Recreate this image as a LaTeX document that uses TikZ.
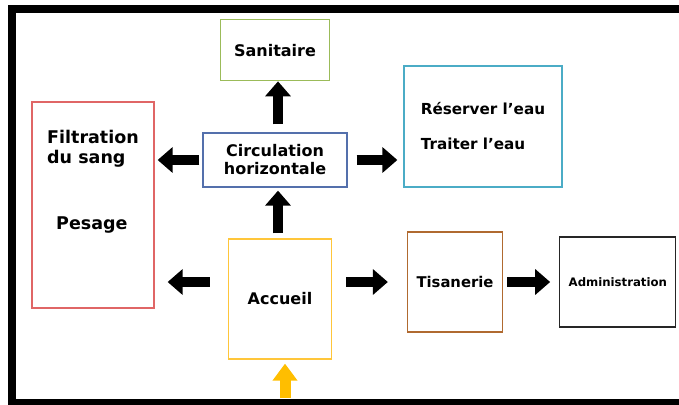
\documentclass[tikz,border=0pt]{standalone}
\usepackage{fontspec}
\setsansfont{DejaVu Sans}
\usetikzlibrary{arrows.meta, positioning}
\definecolor{sanitgreen}{HTML}{9BBB59}
\definecolor{circblue}{HTML}{5470AC}
\definecolor{eaucyan}{HTML}{4BACC6}
\definecolor{filtred}{HTML}{E06666}
\definecolor{accgold}{HTML}{FFC63A}
\definecolor{tisbrown}{HTML}{B06A30}
\definecolor{entryyellow}{HTML}{FFBE00}

\begin{document}
\begin{tikzpicture}[
        x=1pt, y=-1pt,
        fs/.style 2 args={font=\sffamily\bfseries\fontsize{#1}{#2}\selectfont},
        base/.style={draw, line width=1.3pt, align=center, inner sep=0pt, text=black},
        room/.style={base, rectangle},
        arrow/.style={line width=10pt, -{Triangle[length=15pt, width=25pt]}},
    ]
    \useasboundingbox (0,0) rectangle (679,404);

    % Frame
    \draw[line width=8pt] (12,9) rectangle (720,403);

    % Nodes
    \node[room, draw=circblue, minimum width=144pt, minimum height=54pt, fs={16}{18}] (circ) at (275,160) {Circulation\\horizontale};
    \node[room, draw=sanitgreen, minimum width=109pt, minimum height=61pt, fs={16}{18}, above=51pt of circ] (sanit) {Sanitaire};
    \node[room, draw=eaucyan, minimum width=158pt, minimum height=121pt, align=left, fs={15.2}{17}] (reserv) at (483,126.5) {Réserver l’eau\\[18pt]Traiter l’eau};
    \node[room, draw=filtred, minimum width=122pt, minimum height=206pt, align=left, text depth=51pt, fs={17.5}{20}] (filt) at (93,205) {Filtration\\du sang\\[46pt]\hspace*{9pt}Pesage};
    \node[room, draw=accgold, minimum width=103pt, minimum height=120pt, fs={16}{18}] (acc) at (280,299) {Accueil};
    \node[room, draw=tisbrown, minimum width=95pt, minimum height=100pt, fs={14.8}{18}] (tisan) at (455,282) {Tisanerie};
    \node[room, draw=black!85, minimum width=116pt, minimum height=90pt, fs={11.7}{14}, right=56pt of tisan] (admin) {Administration};
    \coordinate (entree) at (285,398);

    % Arrows
    \draw[arrow, shorten <=8pt] ([xshift=3pt]circ.north) -- ([xshift=3pt]circ.north |- sanit.south);
    \draw[arrow, shorten <=3pt, shorten >=3pt] (circ.west) -- (filt.east |- circ);
    \draw[arrow, shorten <=9pt, shorten >=6pt] (circ.east) -- (reserv.west |- circ);
    \draw[arrow, shorten <=5pt, shorten >=3pt] ([xshift=-2pt]acc.north) -- ([xshift=-2pt]acc.north |- circ.south);
    \draw[arrow, shorten <=18pt, shorten >=13pt] (acc.west |- tisan) -- (filt.east |- tisan);
    \draw[arrow, shorten <=14pt, shorten >=19pt] (acc.east |- tisan) -- (tisan.west);
    \draw[arrow, shorten <=4pt, shorten >=9pt] (tisan) -- (admin);
    \draw[arrow, entryyellow, line width=11pt, -{Triangle[length=17pt, width=24pt]}, shorten >=4pt] (entree) -- (entree |- acc.south);

\end{tikzpicture}
\end{document}
